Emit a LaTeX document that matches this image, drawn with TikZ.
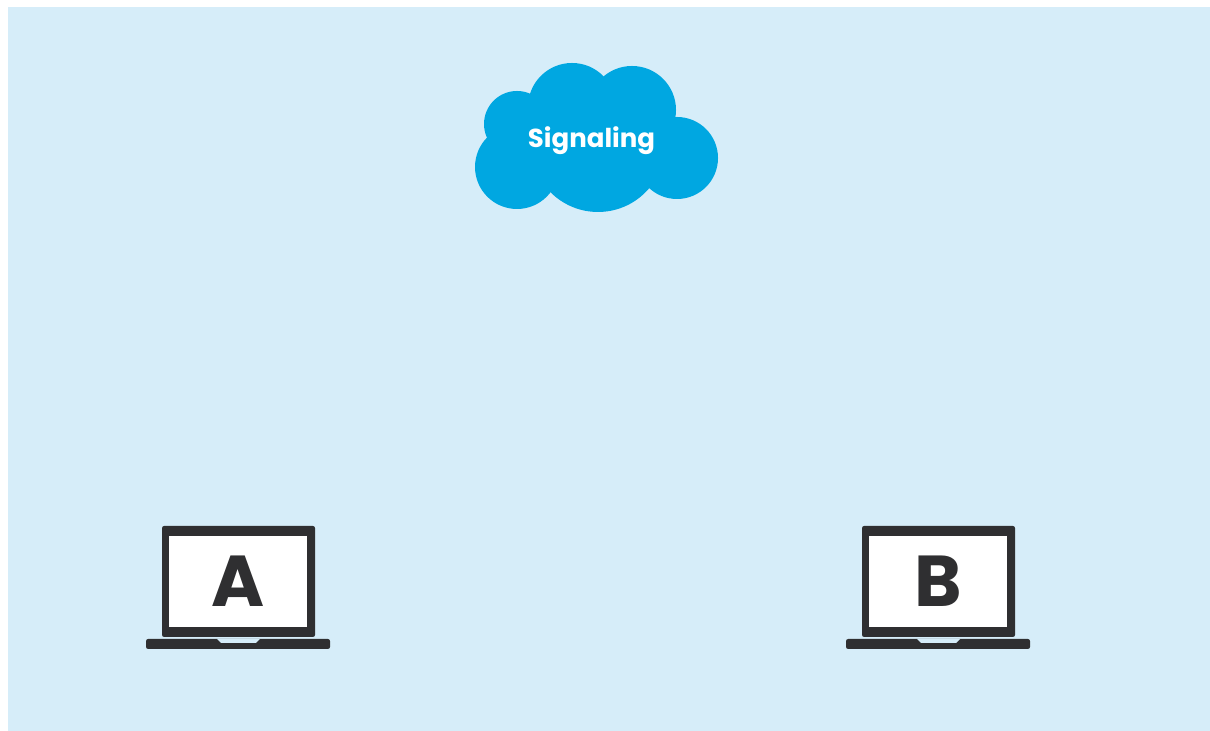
\documentclass[tikz,border=0pt]{standalone}
\usepackage{fontspec}
\setmainfont{Poppins}
\definecolor{skybg}{HTML}{D6EDF9}
\definecolor{cloudblue}{HTML}{00A7E1}
\definecolor{laptopdark}{HTML}{2F2F31}
\tikzset{
    screen/.style={fill=white,minimum width=1.38cm,minimum height=0.91cm,inner sep=0pt,text=laptopdark,font=\fontsize{20.5}{21}\selectfont\bfseries},
    cloudpart/.style={fill=cloudblue},
    laptopbody/.style={fill=laptopdark,rounded corners=0.6pt},
}
\begin{document}
\begin{tikzpicture}
    \useasboundingbox (0,0) rectangle (12.10,7.31);
    \fill[skybg] (0.08,0) rectangle (12.10,7.24);
    % cloud
    \fill[cloudpart] (5.17,5.64) circle (0.42);
    \fill[cloudpart] (5.17,6.07) circle (0.33);
    \fill[cloudpart] (5.72,6.24) circle (0.44);
    \fill[cloudpart] (6.32,6.21) circle (0.44);
    \fill[cloudpart] (6.77,5.73) circle (0.41);
    \fill[cloudpart] (5.98,5.86) circle (0.67);
    \node[text=white,font=\fontsize{7.4}{8}\selectfont\bfseries] (signaling) at (5.915,5.90) {Signaling};
    % laptop A
    \fill[laptopbody] (1.62,0.94) rectangle (3.15,2.05);
    \node[screen] (screenA) at (2.38,1.495) {A};
    \fill[laptopbody] (1.46,0.82) rectangle (3.30,0.92);
    \fill[skybg] (2.17,0.92) -- (2.60,0.92) -- (2.56,0.88) -- (2.21,0.88) -- cycle;
    % laptop B
    \fill[laptopbody] (8.62,0.94) rectangle (10.15,2.05);
    \node[screen] (screenB) at (9.38,1.495) {B};
    \fill[laptopbody] (8.46,0.82) rectangle (10.30,0.92);
    \fill[skybg] (9.17,0.92) -- (9.60,0.92) -- (9.56,0.88) -- (9.21,0.88) -- cycle;
\end{tikzpicture}
\end{document}
